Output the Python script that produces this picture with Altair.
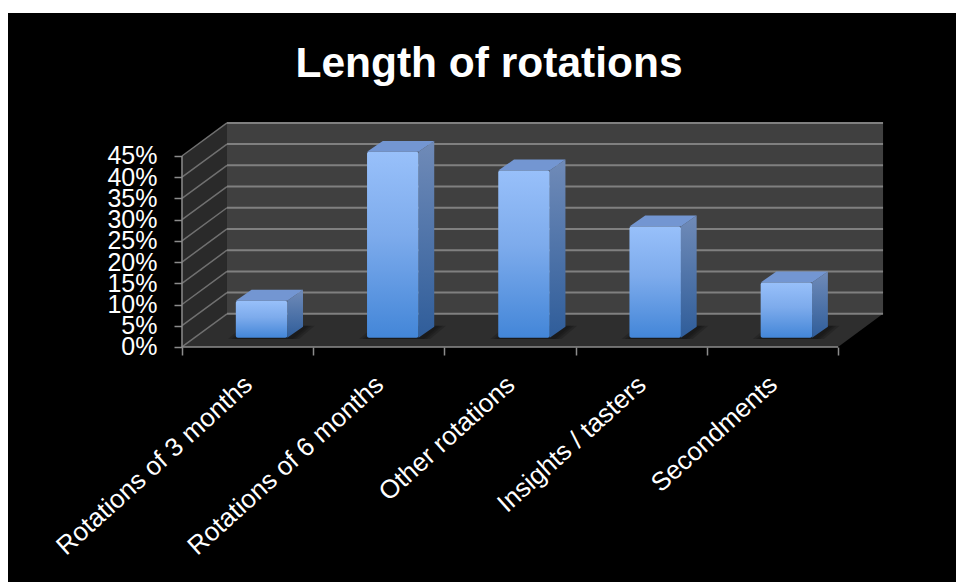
import altair as alt
import pandas as pd

# Chart content
TITLE = "Length of rotations"
categories = ["Rotations of 3 months", "Rotations of 6 months", "Other rotations",
              "Insights / tasters", "Secondments"]
shares = [0.087, 0.438, 0.394, 0.262, 0.130]
y_ticks = [0, 0.05, 0.10, 0.15, 0.20, 0.25, 0.30, 0.35, 0.40, 0.45]
x_ticks = [0, 1, 2, 3, 4, 5]

# Oblique projection: the full depth of the box, in axis units
DEPTH_X = 0.343
DEPTH_Y = 0.078
BAR_WIDTH = 0.392
BAR_FRONT_X = 0.31
BAR_BACK_X = 0.66
BAR_FRONT_Y = 0.28
BAR_BACK_Y = 0.61
Y_MAX = 0.45

X_DOMAIN = [-1.326, 5.899]
Y_DOMAIN = [-0.554, 0.787]

X = alt.Scale(domain=X_DOMAIN, nice=False, zero=False)
Y = alt.Scale(domain=Y_DOMAIN, nice=False, zero=False)

# Both axes sit on the front edges of the box, well inside the black panel
X_AXIS = alt.Axis(values=x_ticks, labels=False, domain=False, grid=False, offset=-235,
                  tickColor="#8c8c8c", tickSize=8, tickWidth=1.5, title=None)
Y_AXIS = alt.Axis(values=y_ticks, format=".0%", domain=False, grid=False, offset=-174,
                  tickColor="#8c8c8c", tickSize=8, tickWidth=1.5, labelPadding=17,
                  labelColor="white", labelFont="Liberation Sans", labelFontSize=25,
                  labelBaseline="middle", labelOverlap=False, labelBound=False,
                  labelFlush=False, title=None)


def ex(field="x"):
    return alt.X(field, type="quantitative", scale=X, axis=X_AXIS)


def ey(field="y"):
    return alt.Y(field, type="quantitative", scale=Y, axis=Y_AXIS)


x2 = alt.X2("x2")
y2 = alt.Y2("y2")

# Box: back wall, side wall and floor
wall = alt.Chart(pd.DataFrame([{
    "x": DEPTH_X, "x2": 5 + DEPTH_X, "y": DEPTH_Y, "y2": Y_MAX + DEPTH_Y
}])).mark_rect(color="#404040").encode(x=ex(), x2=x2, y=ey(), y2=y2)

side_wall = alt.Chart(pd.DataFrame([
    {"x": 0, "y": 0, "y2": Y_MAX},
    {"x": DEPTH_X, "y": DEPTH_Y, "y2": Y_MAX + DEPTH_Y},
])).mark_area(color="#2a2a2a", orient="vertical").encode(x=ex(), y=ey(), y2=y2)

floor = alt.Chart(pd.DataFrame([
    {"y": 0, "x": 0, "x2": 5},
    {"y": DEPTH_Y, "x": DEPTH_X, "x2": 5 + DEPTH_X},
])).mark_area(color="#2e2e2e", orient="horizontal").encode(x=ex(), x2=x2, y=ey())

# Gridlines on both walls
grid_back = alt.Chart(pd.DataFrame([
    {"x": DEPTH_X, "x2": 5 + DEPTH_X, "y": v + DEPTH_Y} for v in y_ticks
])).mark_rule(color="#808080", strokeWidth=2).encode(x=ex(), x2=x2, y=ey())

grid_side = alt.Chart(pd.DataFrame([
    {"x": 0, "x2": DEPTH_X, "y": v, "y2": v + DEPTH_Y} for v in y_ticks
])).mark_rule(color="#707070", strokeWidth=1.5).encode(x=ex(), x2=x2, y=ey(), y2=y2)

# Axis lines along the front edges of the box
edges = alt.Chart(pd.DataFrame([
    {"x": 0, "x2": 5, "y": 0, "y2": 0},
    {"x": 0, "x2": 0, "y": 0, "y2": Y_MAX},
])).mark_rule(color="#8c8c8c", strokeWidth=1.5).encode(x=ex(), x2=x2, y=ey(), y2=y2)

# Category names, slanted under the middle of each slot
name_df = pd.DataFrame({"x": [i + 0.5 for i in range(5)], "y": [0] * 5, "name": categories})
names = alt.Chart(name_df).mark_text(
    angle=318, align="right", baseline="middle", color="white",
    font="Liberation Sans", fontSize=26, dx=-22, dy=26,
).encode(x=ex(), y=ey(), text="name:N")

# Bars: soft floor shadow, then side, top and front faces
bars = pd.DataFrame({
    "left": [i + 0.5 - BAR_WIDTH / 2 for i in range(5)],
    "right": [i + 0.5 + BAR_WIDTH / 2 for i in range(5)],
    "v": shares,
})

front = bars.assign(
    x=bars.left + BAR_FRONT_X * DEPTH_X, x2=bars.right + BAR_FRONT_X * DEPTH_X,
    y=BAR_FRONT_Y * DEPTH_Y, y2=bars.v + BAR_FRONT_Y * DEPTH_Y)

side_rows, top_rows, shadow_rows = [], [], []
for i, r in bars.iterrows():
    side_rows += [
        {"bar": i, "x": r.right + BAR_FRONT_X * DEPTH_X, "y": BAR_FRONT_Y * DEPTH_Y, "y2": r.v + BAR_FRONT_Y * DEPTH_Y},
        {"bar": i, "x": r.right + BAR_BACK_X * DEPTH_X, "y": BAR_BACK_Y * DEPTH_Y, "y2": r.v + BAR_BACK_Y * DEPTH_Y},
    ]
    top_rows += [
        {"bar": i, "y": r.v + BAR_FRONT_Y * DEPTH_Y, "x": r.left + BAR_FRONT_X * DEPTH_X, "x2": r.right + BAR_FRONT_X * DEPTH_X},
        {"bar": i, "y": r.v + BAR_BACK_Y * DEPTH_Y, "x": r.left + BAR_BACK_X * DEPTH_X, "x2": r.right + BAR_BACK_X * DEPTH_X},
    ]
    for pad, level in [(0.06, 0), (0.035, 1), (0.012, 2)]:
        shadow_rows += [
            {"key": f"{i}-{level}", "y": (BAR_FRONT_Y - 0.04) * DEPTH_Y,
             "x": r.left - pad + BAR_FRONT_X * DEPTH_X, "x2": r.right + pad + 0.03 + BAR_FRONT_X * DEPTH_X},
            {"key": f"{i}-{level}", "y": (BAR_BACK_Y + 0.03) * DEPTH_Y,
             "x": r.left - pad + BAR_BACK_X * DEPTH_X, "x2": r.right + pad + 0.03 + BAR_BACK_X * DEPTH_X},
        ]

shadow = alt.Chart(pd.DataFrame(shadow_rows)).mark_area(
    color="black", opacity=0.16, orient="horizontal"
).encode(x=ex(), x2=x2, y=ey(), detail="key:N")

side_gradient = alt.Gradient(gradient="linear", x1=0, y1=0, x2=0, y2=1, stops=[
    alt.GradientStop(color="#708bb8", offset=0), alt.GradientStop(color="#2f5d9a", offset=1)])
front_gradient = alt.Gradient(gradient="linear", x1=0, y1=0, x2=0, y2=1, stops=[
    alt.GradientStop(color="#98c0fa", offset=0),
    alt.GradientStop(color="#7dabec", offset=0.45),
    alt.GradientStop(color="#4386d8", offset=1)])

side_faces = alt.Chart(pd.DataFrame(side_rows)).mark_area(
    color=side_gradient, orient="vertical"
).encode(x=ex(), y=ey(), y2=y2, detail="bar:N")

top_faces = alt.Chart(pd.DataFrame(top_rows)).mark_area(
    color="#7396d2", orient="horizontal"
).encode(x=ex(), x2=x2, y=ey(), detail="bar:N")

front_faces = alt.Chart(front).mark_rect(color=front_gradient, cornerRadius=2).encode(
    x=ex(), x2=x2, y=ey(), y2=y2)

chart = alt.layer(
    wall, side_wall, floor, grid_back, grid_side, edges, shadow,
    side_faces, top_faces, front_faces, names,
).properties(
    width=948, height=569,
    padding={"left": 8, "top": 13, "right": 0, "bottom": 0},
    autosize=alt.AutoSizeParams(type="none"),
    background="white",
    title=alt.TitleParams(TITLE, anchor="middle", color="white", font="Liberation Sans",
                          fontSize=42.5, fontWeight="bold", offset=-72, dx=7),
).configure_view(fill="black", stroke=None)

chart.save("out.html", embed_options={"renderer": "svg", "actions": False})
